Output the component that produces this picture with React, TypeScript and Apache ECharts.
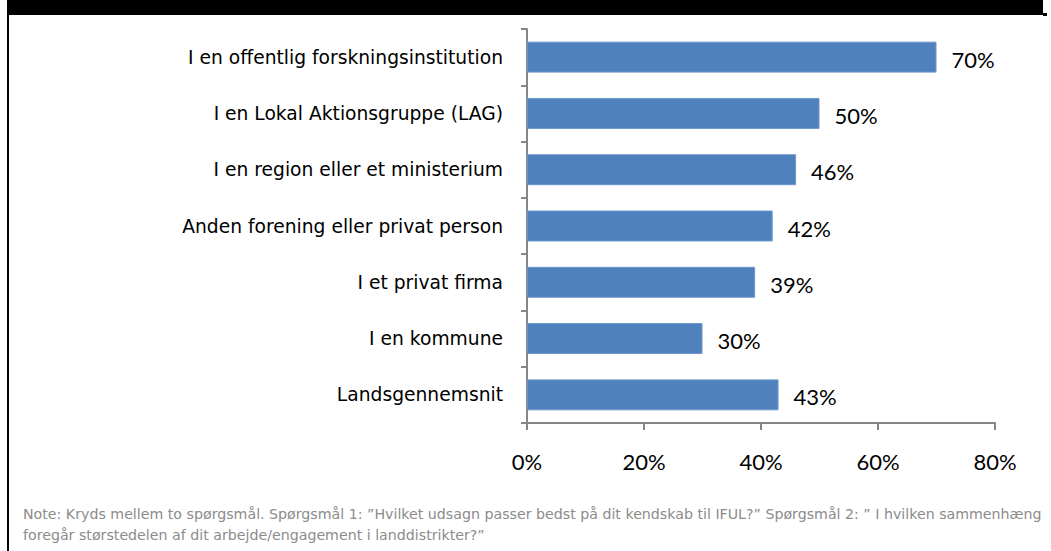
import React, { useEffect, useRef } from "react";
import * as echarts from "echarts";

const categories = [
  "I en offentlig forskningsinstitution",
  "I en Lokal Aktionsgruppe (LAG)",
  "I en region eller et ministerium",
  "Anden forening eller privat person",
  "I et privat firma",
  "I en kommune",
  "Landsgennemsnit",
];
const values = [70, 50, 46, 42, 39, 30, 43];
const xTicks = [0, 20, 40, 60, 80];
const noteLines = [
  "Note: Kryds mellem to spørgsmål. Spørgsmål 1: \u201DHvilket udsagn passer bedst på dit kendskab til IFUL?\u201D Spørgsmål 2: \u201D I hvilken sammenhæng",
  "foregår størstedelen af dit arbejde/engagement i landdistrikter?\u201D",
];

export default function App() {
  const ref = useRef<HTMLDivElement>(null);
  useEffect(() => {
    if (!ref.current) return;
    const chart = echarts.init(ref.current, undefined, { renderer: "svg" });
    chart.setOption({
      animation: false,
      backgroundColor: "#ffffff",
      grid: { left: 527, right: 56, top: 29, bottom: 128, containLabel: false },
      xAxis: {
        type: "value",
        min: xTicks[0],
        max: xTicks[xTicks.length - 1],
        interval: 20,
        axisLine: { show: true, lineStyle: { color: "#868686", width: 2 } },
        axisTick: { show: true, length: 7, lineStyle: { color: "#868686", width: 2 } },
        splitLine: { show: false },
        axisLabel: {
          formatter: (v: number) => v + "%",
          margin: 27,
          color: "#000",
          fontFamily: "Lato",
          fontSize: 22,
        },
      },
      yAxis: {
        type: "category",
        data: categories,
        inverse: true,
        axisLine: { show: true, lineStyle: { color: "#868686", width: 2 } },
        axisTick: { show: true, length: 6, lineStyle: { color: "#868686", width: 2 } },
        axisLabel: {
          margin: 24,
          color: "#000",
          fontFamily: "DejaVu Sans",
          fontSize: 18.7,
        },
      },
      series: [
        {
          type: "bar",
          data: values,
          barCategoryGap: "45%",
          itemStyle: { color: "#4f81bd", borderColor: "#6d97cc", borderWidth: 1 },
          label: {
            show: true,
            position: "right",
            distance: 15,
            offset: [0, 2],
            formatter: (p: any) => p.value + "%",
            color: "#000",
            fontFamily: "Lato",
            fontSize: 22,
          },
        },
      ],
      graphic: [
        { type: "rect", left: 7, top: 0, shape: { width: 1036, height: 15 }, style: { fill: "#000" } },
        { type: "rect", left: 1043, top: 13, shape: { width: 4, height: 3 }, style: { fill: "#000" } },
        { type: "rect", left: 7, top: 15, shape: { width: 2, height: 536 }, style: { fill: "#000" } },
        ...noteLines.map((t, i) => ({
          type: "text",
          left: 23,
          top: 507 + i * 21,
          style: {
            text: t,
            fill: "#8c8c8c",
            font: "14.2px 'DejaVu Sans'",
          },
        })),
      ],
    });
    return () => chart.dispose();
  }, []);
  return (
    <div
      ref={ref}
      style={{ position: "fixed", left: 0, top: 0, width: 1051, height: 551 }}
    />
  );
}
